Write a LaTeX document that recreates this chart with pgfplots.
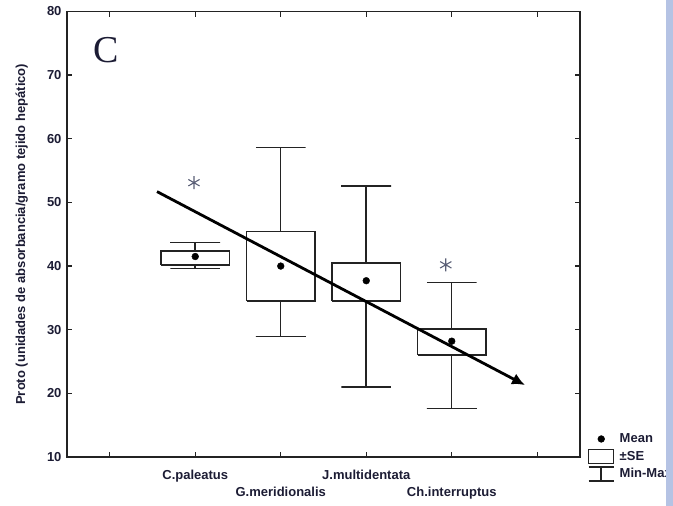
\documentclass[border=0pt]{standalone}
\usepackage{pgfplots}
\pgfplotsset{compat=1.18}
\usepackage{fontspec}
\setmainfont{Liberation Sans}
\newfontfamily\serifC{Liberation Serif}
\usetikzlibrary{arrows.meta}
\definecolor{txt}{RGB}{28,28,52}
\definecolor{ln}{RGB}{35,35,35}
\definecolor{strip}{RGB}{181,195,228}
\definecolor{ast}{RGB}{90,95,118}
\begin{document}
\begin{tikzpicture}
\begin{axis}[
 at={(0,0)}, anchor=south west,
 scale only axis, width=513pt, height=445.5pt,
 xmin=-0.5, xmax=5.5, ymin=10, ymax=80,
 xtick={0,1,2,3,4,5},
 xticklabels={,C.paleatus,,J.multidentata,,},
 extra x ticks={2,4},
 extra x tick labels={G.meridionalis,Ch.interruptus},
 extra x tick style={major tick length=0pt, xticklabel style={yshift=-17pt}},
 xticklabel style={yshift=-10pt},
 yticklabel style={xshift=-2pt},
 ytick={10,20,...,80},
 axis line style={ln, line width=1.4pt},
 major tick style={ln, line width=1.4pt},
 major tick length=5pt,
 tick align=inside,
 ticklabel style={font=\fontsize{13}{15}\selectfont\bfseries, text=txt},
 /pgf/number format/assume math mode=true,
 ylabel={Proto (unidades de absorbancia/gramo tejido hepático)},
 ylabel style={font=\fontsize{13}{15}\selectfont\bfseries, text=txt, at={(axis description cs:-0.088,0.5)}, anchor=center},
 clip=false,
 legend style={at={(axis description cs:1.0156,0.0601)}, anchor=north west, draw=none, fill=none, inner sep=0pt, outer sep=0pt, row sep=0pt,
   nodes={inner sep=0pt, font=\fontsize{13}{15}\selectfont\bfseries, text=txt}},
 legend cell align=left,
]
% boxes (+-SE)
\addplot[ln, line width=1.5pt, forget plot] coordinates {(0.6,40.2) (1.4,40.2) (1.4,42.4) (0.6,42.4) (0.6,40.2)};
\addplot[ln, line width=1.5pt, forget plot] coordinates {(1.6,34.5) (2.4,34.5) (2.4,45.4) (1.6,45.4) (1.6,34.5)};
\addplot[ln, line width=1.5pt, forget plot] coordinates {(2.6,34.5) (3.4,34.5) (3.4,40.5) (2.6,40.5) (2.6,34.5)};
\addplot[ln, line width=1.5pt, forget plot] coordinates {(3.6,26.0) (4.4,26.0) (4.4,30.1) (3.6,30.1) (3.6,26.0)};
% whiskers (min-max)
\addplot[ln, line width=1.5pt, forget plot] coordinates {(0.71,43.7) (1.29,43.7) (1,43.7) (1,42.4)};
\addplot[ln, line width=1.5pt, forget plot] coordinates {(1,40.2) (1,39.6) (0.71,39.6) (1.29,39.6)};
\addplot[ln, line width=1.5pt, forget plot] coordinates {(1.71,58.6) (2.29,58.6) (2,58.6) (2,45.4)};
\addplot[ln, line width=1.5pt, forget plot] coordinates {(2,34.5) (2,28.9) (1.71,28.9) (2.29,28.9)};
\addplot[ln, line width=1.5pt, forget plot] coordinates {(2.71,52.6) (3.29,52.6) (3,52.6) (3,40.5)};
\addplot[ln, line width=1.5pt, forget plot] coordinates {(3,34.5) (3,21.0) (2.71,21.0) (3.29,21.0)};
\addplot[ln, line width=1.5pt, forget plot] coordinates {(3.71,37.4) (4.29,37.4) (4,37.4) (4,30.1)};
\addplot[ln, line width=1.5pt, forget plot] coordinates {(4,26.0) (4,17.6) (3.71,17.6) (4.29,17.6)};
% means
\addplot[only marks, mark=*, mark size=3.4pt, color=black, forget plot] coordinates {(1,41.5) (2,40.0) (3,37.7) (4,28.2)};
% trend arrow
\addplot[black, line width=2.8pt, -{Latex[length=13pt,width=12pt]}, forget plot] coordinates {(0.553,51.7) (4.857,21.3)};
% significance asterisks
\addplot[only marks, mark=asterisk, mark size=6.5pt, ast, line width=1.1pt, forget plot] coordinates {(0.985,53.1) (3.93,40.2)};
% panel letter
\node[font=\serifC\fontsize{38}{40}\selectfont, text=txt] at (axis cs:-0.044,73.9) {C};
% legend
\addlegendimage{legend image code/.code={\path[draw=none,fill=none] (0pt,-8.75pt) rectangle (31pt,8.75pt); \fill[black] (12.5pt,0pt) circle (3.4pt);}}
\addlegendentry{Mean}
\addlegendimage{legend image code/.code={\path[draw=none,fill=none] (0pt,-8.75pt) rectangle (31pt,8.75pt); \draw[ln, line width=1.5pt] (0pt,-7pt) rectangle (25pt,7pt);}}
\addlegendentry{±SE}
\addlegendimage{legend image code/.code={\path[draw=none,fill=none] (0pt,-8.75pt) rectangle (31pt,8.75pt); \draw[ln, line width=1.5pt] (0pt,7pt) -- (25pt,7pt) (12.5pt,7pt) -- (12.5pt,-7pt) (0pt,-7pt) -- (25pt,-7pt);}}
\addlegendentry{Min-Max}
\end{axis}
\fill[strip] (599pt,-49pt) rectangle (606pt,457pt);
\pgfresetboundingbox
\path (-67pt,-49pt) rectangle (606pt,457pt);
\end{tikzpicture}
\end{document}
